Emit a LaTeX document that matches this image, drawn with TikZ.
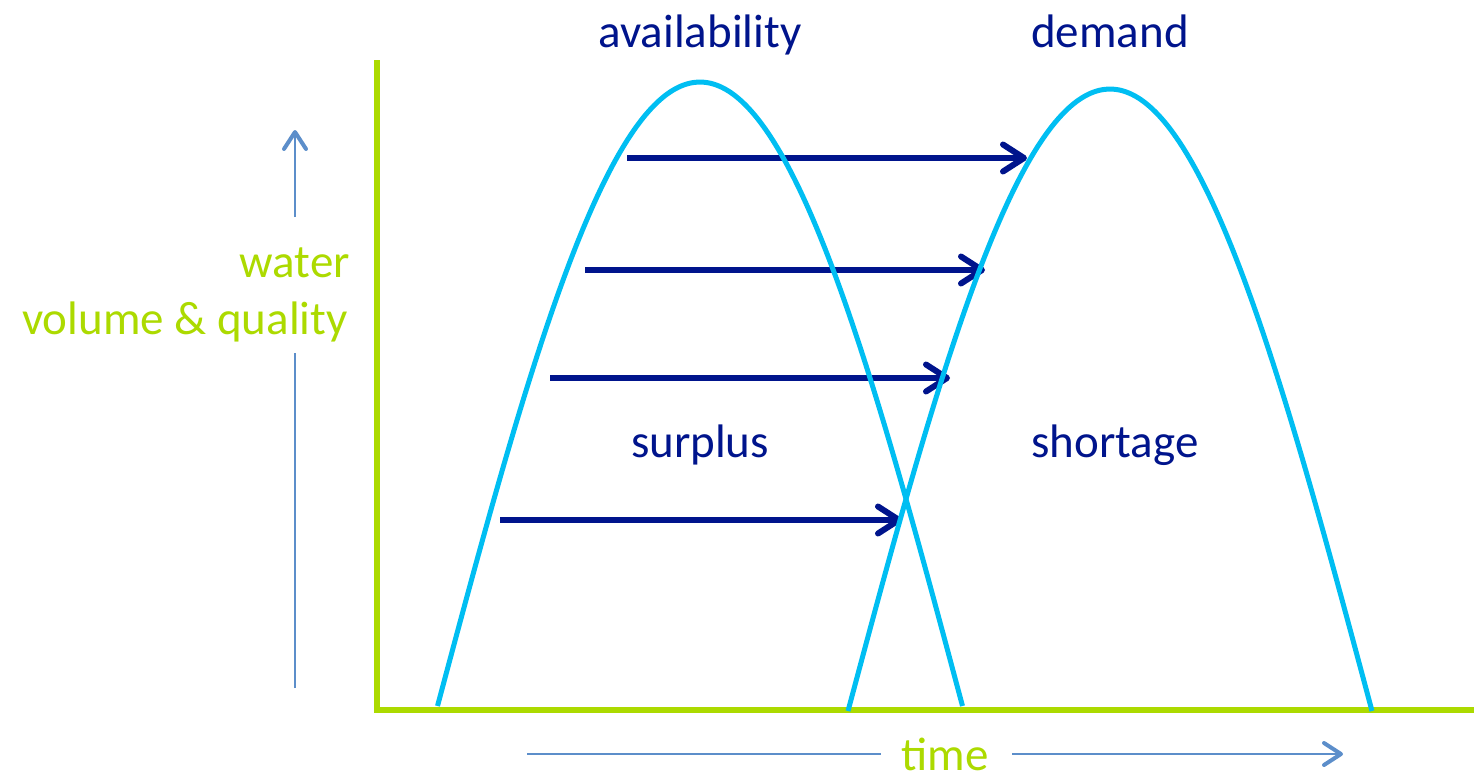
\documentclass[tikz,border=0pt]{standalone}
\usepackage{fontspec}
\setmainfont{Carlito}
\usetikzlibrary{arrows.meta}
\definecolor{navy}{RGB}{0,20,140}
\definecolor{cyanc}{RGB}{0,190,242}
\definecolor{lime}{RGB}{172,218,0}
\definecolor{steel}{RGB}{92,142,202}
\begin{document}
\begin{tikzpicture}[x=1pt,y=-1pt,
  lbl/.style={font=\fontsize{47}{56}\selectfont, inner sep=0pt},
  axisline/.style={lime, line width=6pt, line cap=butt, line join=miter},
  curve/.style={cyanc, line width=5pt},
  flow/.style={navy, line width=6pt, -{Straight Barb[length=21pt,width=27pt,line cap=round,line join=round]}},
  dimarrow/.style={steel, line width=2.5pt, -{Straight Barb[length=17pt,width=22pt,line width=4pt,line cap=round,line join=round]}},
  dimline/.style={steel, line width=2.5pt}]
\useasboundingbox (0,0) rectangle (1474,777);

% axes
\draw[axisline] (377,60) -- (377,710) -- (1474,710);

% labels
\node[lbl, navy, anchor=base] (avail) at (700,47) {availability};
\node[lbl, navy, anchor=base] (dem) at (1110,47) {demand};
\node[lbl, navy, anchor=base] (sur) at (700,457) {surplus};
\node[lbl, navy, anchor=base] (sho) at (1115,457) {shortage};
\node[lbl, lime, anchor=base east] (water) at (350,277) {water};
\node[lbl, lime, anchor=base east] (vq) at (348,334) {volume \& quality};
\node[lbl, lime, anchor=base] (time) at (945,770) {time};

% dimension arrows
\coordinate (v0) at (295,688);
\coordinate (v1) at (295,353);
\coordinate (v2) at (295,217);
\coordinate (v3) at (295,130);
\draw[dimline] (v0) -- (v1);
\draw[dimarrow] (v2) -- (v3);
\coordinate (h0) at (527,754);
\coordinate (h1) at (881,754);
\coordinate (h2) at (1012,754);
\coordinate (h3) at (1343,754);
\draw[dimline] (h0) -- (h1);
\draw[dimarrow] (h2) -- (h3);

% flow arrows
\coordinate (a1s) at (627,158); \coordinate (a1e) at (1027,158);
\coordinate (a2s) at (585,270); \coordinate (a2e) at (985,270);
\coordinate (a3s) at (550,378); \coordinate (a3e) at (950,378);
\coordinate (a4s) at (500,520); \coordinate (a4e) at (902,520);
\draw[flow] (a1s) -- (a1e);
\draw[flow] (a2s) -- (a2e);
\draw[flow] (a3s) -- (a3e);
\draw[flow] (a4s) -- (a4e);

% curves
\draw[curve] plot[domain=-262.5:262.5, samples=120, smooth] ({700+\x},{706-624*cos(\x/262.5*90)});
\draw[curve] plot[domain=-262:262, samples=120, smooth] ({1110+\x},{711-622*cos(\x/262*90)});
\end{tikzpicture}
\end{document}
